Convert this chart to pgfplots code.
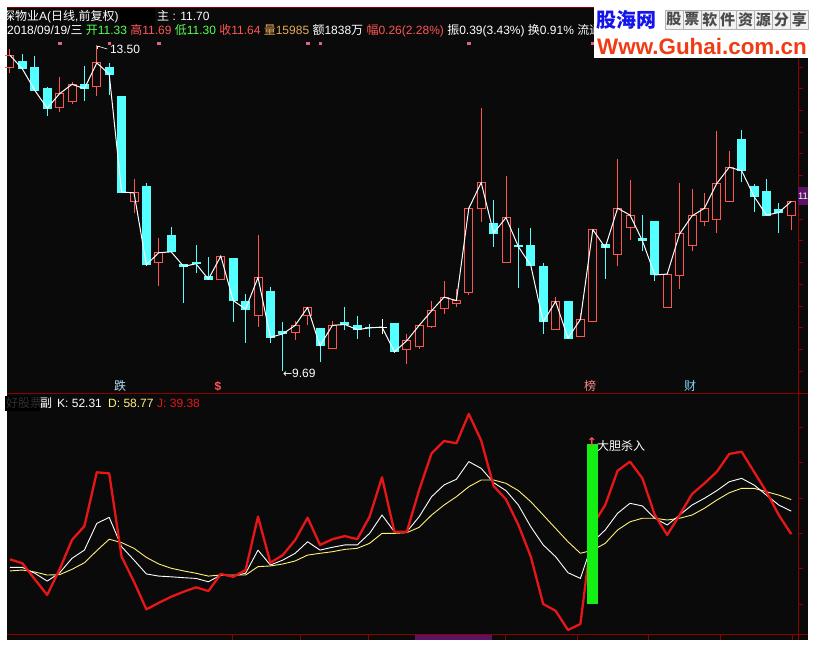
\documentclass[border=0pt]{standalone}
\usepackage{pgfplots}
\pgfplotsset{compat=1.18}
\usepackage{pgfplotstable}
\usepackage{fontspec}
\setmainfont{Liberation Sans}
\newfontfamily\cjk{Noto Sans CJK SC}
\newfontfamily\sym{DejaVu Sans}
\definecolor{bg}{RGB}{10,10,10}
\definecolor{upred}{RGB}{255,84,84}
\definecolor{dncyan}{RGB}{84,255,255}
\definecolor{axred}{RGB}{140,0,0}
\definecolor{dcol}{RGB}{255,240,120}
\definecolor{jcol}{RGB}{232,22,22}
\definecolor{sgreen}{RGB}{20,240,20}
\definecolor{hgreen}{RGB}{84,255,84}
\definecolor{volc}{RGB}{230,170,90}
\definecolor{logoblue}{RGB}{20,20,235}
\definecolor{logored}{RGB}{240,60,20}
\definecolor{purpbox}{RGB}{90,20,100}
\definecolor{pinkm}{RGB}{220,100,140}
\definecolor{dimgray}{RGB}{48,48,48}

\pgfplotstableread{
i o h l c
0 13.24 13.45 13.17 13.38
1 13.31 13.39 13.21 13.22
2 13.24 13.37 12.96 12.97
3 12.99 13.01 12.67 12.76
4 12.77 13.13 12.72 12.93
5 12.84 13.07 12.81 13.04
6 13.04 13.25 12.84 12.99
7 13.02 13.50 12.90 13.29
8 13.24 13.29 12.92 13.16
9 12.90 12.90 11.78 11.78
10 11.67 11.93 11.53 11.77
11 11.84 11.88 10.91 10.93
12 10.96 11.24 10.68 11.07
13 11.27 11.37 11.08 11.08
14 10.93 10.93 10.48 10.91
15 10.95 11.16 10.83 10.94
16 10.79 11.02 10.75 10.76
17 10.76 11.04 10.76 11.03
18 11.00 11.00 10.26 10.51
19 10.50 10.59 10.01 10.41
20 10.33 11.28 10.20 10.78
21 10.62 10.67 10.01 10.08
22 10.15 10.26 9.69 10.12
23 10.14 10.27 10.05 10.22
24 10.34 10.44 10.22 10.43
25 10.18 10.18 9.79 9.98
26 9.95 10.27 9.95 10.22
27 10.25 10.44 10.17 10.23
28 10.22 10.33 10.06 10.17
29 10.20 10.24 10.08 10.19
30 10.20 10.29 10.12 10.20
31 10.24 10.24 9.90 9.91
32 9.94 10.12 9.77 10.04
33 9.97 10.22 9.94 10.22
34 10.21 10.50 10.20 10.39
35 10.42 10.74 10.35 10.55
36 10.48 10.64 10.44 10.51
37 10.61 11.59 10.57 11.59
38 11.59 12.76 11.43 11.89
39 11.41 11.69 11.14 11.30
40 10.96 11.97 10.96 11.48
41 11.15 11.36 10.66 11.14
42 11.15 11.36 10.92 10.92
43 10.91 10.95 10.12 10.26
44 10.17 10.55 10.17 10.50
45 10.50 10.50 10.07 10.07
46 10.09 10.37 10.09 10.29
47 10.26 11.34 10.26 11.34
48 11.17 11.17 10.76 11.13
49 11.05 12.17 10.92 11.59
50 11.37 11.92 11.22 11.51
51 11.24 11.51 11.09 11.21
52 11.44 11.44 10.74 10.81
53 10.43 10.82 10.43 10.82
54 10.80 11.89 10.65 11.29
55 11.15 11.82 11.09 11.50
56 11.43 11.77 11.38 11.59
57 11.46 12.49 11.30 11.88
58 11.67 12.26 11.67 12.07
59 12.40 12.51 11.90 12.03
60 11.84 11.87 11.55 11.73
61 11.79 11.93 11.51 11.51
62 11.57 11.65 11.30 11.54
63 11.50 11.67 11.34 11.67
}\ohlc

\pgfplotstableread{
i k d j
0 20.7 18.7 25.2
1 20.7 19.2 23.0
2 17.4 18.1 14.0
3 13.0 16.4 5.2
4 17.6 16.6 19.6
5 25.8 19.6 36.1
6 30.4 23.3 43.9
7 45.4 30.1 74.1
8 48.8 36.5 73.5
9 32.3 34.6 26.7
10 24.8 31.4 12.6
11 17.0 26.3 -2.9
12 15.8 22.6 0.8
13 15.4 20.2 4.2
14 14.9 18.7 7.0
15 14.5 17.4 9.5
16 12.6 15.8 7.4
17 16.4 16.4 17.0
18 15.8 16.4 15.4
19 17.4 16.4 19.2
20 30.4 21.1 49.2
21 22.0 21.5 23.3
22 24.8 22.6 27.6
23 28.6 24.3 36.1
24 35.1 27.6 48.6
25 30.4 28.6 33.3
26 32.0 29.5 36.5
27 33.3 30.8 38.3
28 33.3 31.4 36.5
29 39.8 34.2 49.2
30 50.1 39.8 71.3
31 40.7 39.8 40.7
32 40.7 40.2 40.7
33 49.2 43.2 64.2
34 60.4 50.1 84.8
35 67.0 55.7 91.7
36 70.2 60.4 90.4
37 80.1 66.0 106.9
38 76.3 69.8 91.9
39 68.3 69.8 66.4
40 63.8 67.9 58.9
41 55.7 63.8 44.5
42 43.5 57.6 26.7
43 33.3 50.1 0.1
44 26.7 42.6 -3.7
45 17.7 35.1 -14.5
46 14.5 28.6 -11.1
47 35.1 30.4 44.5
48 41.7 34.2 55.7
49 51.1 41.7 75.0
50 56.7 46.3 80.1
51 55.2 48.3 70.7
52 48.3 48.3 50.1
53 44.5 47.3 38.9
54 50.1 48.3 50.1
55 55.7 50.1 61.9
56 59.5 53.9 67.9
57 63.8 58.5 74.4
58 68.8 62.6 84.4
59 70.7 65.1 85.7
60 67.0 65.1 74.4
61 61.3 63.2 63.2
62 55.7 61.3 50.1
63 52.31 58.77 39.38
}\kdj

\pgfplotsset{
  up/.style={restrict expr to domain={\thisrow{c}-\thisrow{o}}{0.001:100}},
  dn/.style={restrict expr to domain={\thisrow{c}-\thisrow{o}}{-100:-0.001}},
  eq/.style={restrict expr to domain={\thisrow{c}-\thisrow{o}}{-0.001:0.001}},
  cndl/.style={draw=none, mark=none, forget plot,
     error bars/y dir=both, error bars/y explicit, error bars/error mark=none},
  hmark/.style={only marks, mark=-, mark size=4.5pt, forget plot,
     mark options={draw=#1, line width=1pt}},
}

\begin{document}
\begin{tikzpicture}[font=\fontsize{12}{14}\selectfont]
\path[use as bounding box, fill=white] (0,0) rectangle (816pt,-657pt);
\fill[bg] (7pt,-7pt) rectangle (808pt,-640pt);
% frame
\draw[axred, line width=1pt] (7pt,-7.5pt) -- (808pt,-7.5pt);
\draw[axred, line width=1pt] (7pt,-393.5pt) -- (808pt,-393.5pt);
\draw[axred, line width=1pt] (7pt,-634pt) -- (808pt,-634pt);
\draw[axred, line width=1pt] (798pt,-7pt) -- (798pt,-640pt);
\foreach \k in {0,...,15} {
  \pgfmathsetmacro\yy{-(45+21.73*\k)}
  \draw[axred] (798pt,\yy pt) -- ++(5pt,0pt);
}
\foreach \yy in {427,462.6,498,533.3,568.6,604} \draw[axred] (798pt,-\yy pt) -- ++(5pt,0pt);
\foreach \xx in {232,300,368,505,577,648,720,792} \draw[axred] (\xx pt,-634pt) -- (\xx pt,-640pt);
\fill[purpbox] (415pt,-634.5pt) rectangle (492pt,-640pt);
\fill[purpbox] (797.5pt,-187pt) rectangle (808pt,-205pt);
\node[anchor=base west, inner sep=0, text=white] at (797.8pt,-199.5pt) {\fontsize{9.5}{10}\selectfont 11};

% ---------- price panel ----------
\begin{axis}[at={(7pt,-20pt)}, anchor=north west, scale only axis,
  width=791pt, height=373pt, xmin=-0.2419, xmax=63.548,
  ymin=9.4284, ymax=13.7925, hide axis, clip mode=individual]
% event markers
\addplot[only marks, mark=square*, mark size=1.2pt, pinkm, forget plot]
  coordinates {(4,13.52) (8,13.52) (12,13.52) (24,13.52) (25,13.52) (37,13.52) (47,13.52)};
% down (cyan) candles
\addplot[cndl, dn, error bars/error bar style={line width=1pt, draw=dncyan}]
  table[x=i, y expr={(\thisrow{h}+\thisrow{l})/2}, y error expr={(\thisrow{h}-\thisrow{l})/2}] {\ohlc};
\addplot[cndl, dn, error bars/error bar style={line width=9pt, draw=dncyan}]
  table[x=i, y expr={(\thisrow{o}+\thisrow{c})/2}, y error expr={(\thisrow{o}-\thisrow{c})/2}] {\ohlc};
\addplot[hmark=dncyan, dn] table[x=i, y=o] {\ohlc};
\addplot[hmark=dncyan, dn] table[x=i, y=c] {\ohlc};
% up (red hollow) candles
\addplot[cndl, up, error bars/error bar style={line width=1pt, draw=upred}]
  table[x=i, y expr={(\thisrow{h}+\thisrow{c})/2}, y error expr={(\thisrow{h}-\thisrow{c})/2}] {\ohlc};
\addplot[cndl, up, error bars/error bar style={line width=1pt, draw=upred}]
  table[x=i, y expr={(\thisrow{o}+\thisrow{l})/2}, y error expr={(\thisrow{o}-\thisrow{l})/2}] {\ohlc};
\addplot[cndl, up, error bars/error bar style={line width=1pt, draw=upred, xshift=-4pt}]
  table[x=i, y expr={(\thisrow{o}+\thisrow{c})/2}, y error expr={(\thisrow{c}-\thisrow{o})/2}] {\ohlc};
\addplot[cndl, up, error bars/error bar style={line width=1pt, draw=upred, xshift=4pt}]
  table[x=i, y expr={(\thisrow{o}+\thisrow{c})/2}, y error expr={(\thisrow{c}-\thisrow{o})/2}] {\ohlc};
\addplot[hmark=upred, up] table[x=i, y=o] {\ohlc};
\addplot[hmark=upred, up] table[x=i, y=c] {\ohlc};
% doji
\addplot[cndl, eq, error bars/error bar style={line width=1pt, draw=white}]
  table[x=i, y expr={(\thisrow{h}+\thisrow{l})/2}, y error expr={(\thisrow{h}-\thisrow{l})/2}] {\ohlc};
\addplot[hmark=white, eq] table[x=i, y=c] {\ohlc};
% close line
\addplot[white, line width=1pt, line join=round, mark=none] table[x=i, y=c] {\ohlc};
% annotations
\draw[white, line width=0.6pt] (axis cs:7,13.50) ++(0.5pt,-1pt) -- ++(10pt,-3pt);
\draw[white, line width=0.6pt] (axis cs:7,13.50) ++(0.5pt,-1pt) -- ++(0pt,-3pt);
\draw[white, line width=0.6pt] (axis cs:7,13.50) ++(0.5pt,-1pt) -- ++(3pt,0pt);
\node[anchor=west, inner sep=0, text=white] at (axis cs:7,13.50) [xshift=13pt, yshift=-4.5pt] {13.50};
\node[anchor=west, inner sep=0, text=white] at (axis cs:22,9.69) [xshift=0pt, yshift=-3pt] {{\sym\fontsize{11}{12}\selectfont ←}9.69};
\end{axis}

% ---------- KDJ panel ----------
\begin{axis}[at={(7pt,-394pt)}, anchor=north west, scale only axis,
  width=791pt, height=240pt, xmin=-0.2419, xmax=63.548,
  ymin=-16.74, ymax=118.09, hide axis, clip mode=individual]
\addplot[dcol, line width=0.9pt, line join=round, mark=none] table[x=i, y=d] {\kdj};
\addplot[white, line width=0.9pt, line join=round, mark=none] table[x=i, y=k] {\kdj};
\addplot[jcol, line width=2.3pt, line join=round, mark=none] table[x=i, y=j] {\kdj};
\addplot[ybar, bar width=11pt, fill=sgreen, draw=none] coordinates {(47,90)};
\end{axis}

% ---------- texts ----------
\begin{scope}
\clip (7pt,-8pt) rectangle (594pt,-40pt);
\node[anchor=base west, inner sep=0, text=white] at (3pt,-20.5pt)
  {{\cjk 深物业}A({\cjk 日线},{\cjk 前复权})};
\fill[black] (120pt,-8pt) rectangle (155pt,-26pt);
\node[anchor=base west, inner sep=0, text=white] at (157pt,-20.5pt) {{\cjk 主} : 11.70};
\node[anchor=base west, inner sep=0] at (7pt,-34pt)
  {\textcolor{white}{2018/09/19/{\cjk 三}} \textcolor{hgreen}{{\cjk 开}11.33} \textcolor{upred}{{\cjk 高}11.69} \textcolor{hgreen}{{\cjk 低}11.30} \textcolor{upred}{{\cjk 收}11.64} \textcolor{volc}{{\cjk 量}15985} \textcolor{white}{{\cjk 额}1838{\cjk 万}} \textcolor{upred}{{\cjk 幅}0.26(2.28\%)} \textcolor{white}{{\cjk 振}0.39(3.43\%)} \textcolor{white}{{\cjk 换}0.91\%} \textcolor{white}{{\cjk 流通}}};
\end{scope}

% logo
\fill[white] (594pt,-5pt) rectangle (808pt,-58pt);
\node[anchor=base west, inner sep=0, text=logoblue] at (596pt,-27pt) {\fontsize{20}{20}\selectfont\cjk\bfseries 股海网};
\foreach \ch [count=\n from 0] in {股,票,软,件,资,源,分,享} {
  \pgfmathsetmacro\xa{665+17.9*\n}
  \draw[gray!60, fill=gray!10] (\xa pt,-10pt) rectangle ++(17.9pt,-19pt);
  \node[text=black!70, inner sep=0] at (\xa pt+8.95pt,-19.5pt) {\fontsize{15}{15}\selectfont\cjk\bfseries \ch};
}
\node[anchor=base west, inner sep=0, text=logored] at (597pt,-54pt) {\fontsize{22.4}{22}\selectfont\bfseries Www.Guhai.com.cn};

% bottom signals
\node[anchor=base, inner sep=0, text=cyan!30] at (120pt,-390pt) {{\cjk 跌}};
\node[anchor=base, inner sep=0, text=upred] at (218pt,-390pt) {\bfseries\$};
\node[anchor=base, inner sep=0, text=upred!70!white] at (590pt,-390pt) {{\cjk 榜}};
\node[anchor=base, inner sep=0, text=cyan!50!white] at (690pt,-390pt) {{\cjk 财}};

% KDJ legend
\fill[black] (5pt,-396pt) rectangle (40pt,-411pt);
\node[anchor=base west, inner sep=0, text=dimgray] at (6pt,-407.5pt) {{\cjk 好股票}};
\node[anchor=base west, inner sep=0, text=white] at (40pt,-407.5pt) {{\cjk 副}};
\node[anchor=base west, inner sep=0, text=white] at (57pt,-407.5pt) {K: 52.31};
\node[anchor=base west, inner sep=0, text=dcol] at (108pt,-407.5pt) {D: 58.77};
\node[anchor=base west, inner sep=0, text=jcol] at (157pt,-407.5pt) {J: 39.38};

% signal label
\node[inner sep=0, text=upred] at (592pt,-442pt) {\sym\bfseries\fontsize{12}{12}\selectfont ↑};
\node[anchor=base west, inner sep=0, text=white] at (597pt,-450pt) {{\cjk 大胆杀入}};
\end{tikzpicture}
\end{document}
